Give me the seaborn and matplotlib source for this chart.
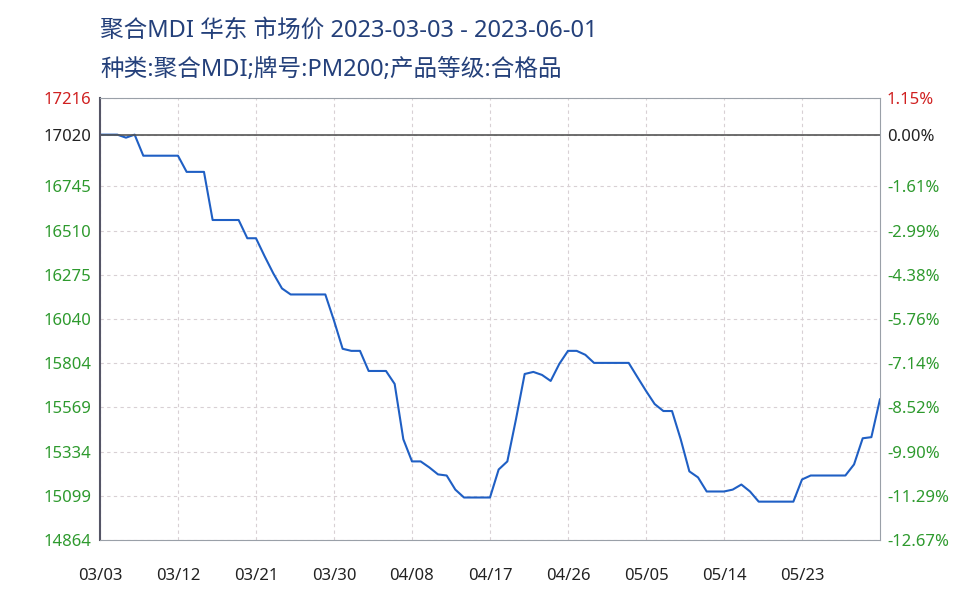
import matplotlib
matplotlib.use("Agg")
import matplotlib.pyplot as plt
import seaborn as sns
import pandas as pd
import numpy as np

sns.set_style("white")
plt.rcParams['font.family'] = ['Noto Sans', 'Noto Sans CJK SC', 'DejaVu Sans']

prices = [17020, 17020, 17020, 17004, 17020, 16908, 16908, 16908, 16908, 16908,
          16822, 16822, 16822, 16566, 16566, 16566, 16566, 16469, 16469, 16373,
          16282, 16202, 16170, 16170, 16170, 16170, 16170, 16031, 15881, 15870,
          15870, 15763, 15763, 15763, 15694, 15400, 15282, 15282, 15250, 15213,
          15207, 15132, 15090, 15090, 15090, 15090, 15239, 15282, 15507, 15747,
          15758, 15742, 15710, 15801, 15870, 15870, 15849, 15806, 15806, 15806,
          15806, 15806, 15731, 15657, 15587, 15550, 15550, 15400, 15229, 15197,
          15122, 15122, 15122, 15132, 15159, 15122, 15068, 15068, 15068, 15068,
          15068, 15186, 15207, 15207, 15207, 15207, 15207, 15266, 15405, 15411, 15614]
days = list(range(len(prices)))
x_tick_labels = ["03/03", "03/12", "03/21", "03/30", "04/08", "04/17", "04/26", "05/05", "05/14", "05/23"]
y_ticks = [17216, 17020, 16745, 16510, 16275, 16040, 15804, 15569, 15334, 15099, 14864]
pct_labels = ["1.15%", "0.00%", "-1.61%", "-2.99%", "-4.38%", "-5.76%", "-7.14%", "-8.52%", "-9.90%", "-11.29%", "-12.67%"]
base = 17020

df = pd.DataFrame({"day": days, "price": prices})

fig = plt.figure(figsize=(9.8, 6), dpi=100)
ax = fig.add_axes([0.102, 0.1, 0.796, 0.737])
sns.lineplot(data=df, x="day", y="price", ax=ax, color="#1f5fc4", linewidth=1.5)
ax.set_xlim(0, 90)
ax.set_ylim(14864, 17216)
ax.set_xticks(list(range(0, 90, 9)))
ax.set_xticklabels(x_tick_labels, fontsize=12, color="#222222")
ax.set_yticks(y_ticks)
ax.set_yticklabels([str(v) for v in y_ticks], fontsize=12)
for lab, v in zip(ax.get_yticklabels(), y_ticks):
    lab.set_color("#d02020" if v == 17216 else ("#222222" if v == base else "#2e9a2e"))
ax.set_xlabel(""); ax.set_ylabel("")
ax.grid(True, linestyle=(0, (3, 3)), color="#d8d0d4", linewidth=0.8)
ax.axhline(base, color="#555555", linewidth=1.2)
for s in ax.spines.values():
    s.set_color("#9aa0a8")
ax.spines['left'].set_color("#555566")
ax.spines['left'].set_linewidth(1.5)
ax.tick_params(axis='y', length=0, pad=6)
ax.tick_params(axis='x', length=0, pad=20)

ax2 = ax.twinx()
ax2.set_ylim(14864, 17216)
ax2.set_yticks(y_ticks)
ax2.set_yticklabels(pct_labels, fontsize=12)
for lab, v in zip(ax2.get_yticklabels(), y_ticks):
    lab.set_color("#d02020" if v == 17216 else ("#222222" if v == base else "#2e9a2e"))
ax2.tick_params(length=0, pad=5)
for s in ax2.spines.values():
    s.set_visible(False)

fig.text(0.102, 0.948, "聚合MDI 华东 市场价 2023-03-03 - 2023-06-01", fontsize=17, color="#24407a", va="center")
fig.text(0.102, 0.883, "种类:聚合MDI;牌号:PM200;产品等级:合格品", fontsize=17, color="#24407a", va="center")

fig.savefig("out.png", dpi=100, facecolor="white")
